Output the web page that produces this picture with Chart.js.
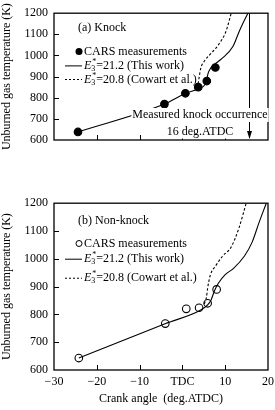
<!DOCTYPE html>
<html>
<head>
<meta charset="utf-8">
<script src="https://cdn.jsdelivr.net/npm/chart.js@4.4.1/dist/chart.umd.min.js"></script>
<style>
  html, body { margin: 0; padding: 0; background: #fff; }
  #wrap { position: relative; width: 275px; height: 410px; }
  .panel { position: absolute; left: 0; width: 275px; }
</style>
</head>
<body>
<div id="wrap">
  <div class="panel" style="top:0;height:190px"><canvas id="knockChart"></canvas></div>
  <div class="panel" style="top:190px;height:220px"><canvas id="nonKnockChart"></canvas></div>
</div>
<script>
// (a) Knock
const knockCarsX = [-24.4, -4.2, 0.7, 3.7, 5.7, 7.7];
const knockCarsY = [638, 770, 821, 850, 879, 943];
const knockThisWorkX = [-24.4, -4.2, 0.8, 3.8, 5.2, 5.6, 6.0, 6.6, 7.5, 9.2, 11.8, 13.3, 15.3];
const knockThisWorkY = [638, 770, 821, 843, 860, 880, 915, 940, 958, 985, 1042, 1115, 1200];
const knockCowartX = [3.5, 3.9, 4.3, 5.2, 6.7, 8.4, 10.2, 11.4];
const knockCowartY = [845, 895, 940, 975, 1010, 1050, 1115, 1200];
const knockAngle = 15.6;

// (b) Non-knock
const nonKnockCarsX = [-24.2, -4.0, 0.9, 3.9, 5.9, 8.0];
const nonKnockCarsY = [643, 767, 820, 824, 840, 890];
const nonKnockThisWorkX = [-24.2, -3.9, 4.3, 5.9, 6.7, 7.5, 8.4, 10.0, 11.9, 14.5, 16.3, 17.9, 19.6];
const nonKnockThisWorkY = [643, 767, 816, 834, 852, 885, 912, 943, 965, 1010, 1060, 1130, 1200];
const nonKnockCowartX = [5.1, 5.6, 5.9, 6.5, 7.8, 9.4, 11.3, 13.2, 14.9];
const nonKnockCowartY = [838, 860, 895, 940, 975, 1010, 1040, 1110, 1200];

// axes
const xTicks = [-30, -20, -10, 0, 10, 20];
const xTickLabels = ['\u221230', '\u221220', '\u221210', 'TDC', '10', '20'];
const yTicks = [600, 700, 800, 900, 1000, 1100, 1200];

const SERIF = '"Liberation Serif", "DejaVu Serif", serif';

function toPoints(xs, ys) {
    return xs.map((x, i) => ({ x: x, y: ys[i] }));
}

// frame and inward tick marks
const framePlugin = {
    id: 'frame',
    afterDatasetsDraw(chart) {
        const ctx = chart.ctx;
        const a = chart.chartArea;
        const xs = chart.scales.x;
        const ys = chart.scales.y;
        ctx.save();
        ctx.strokeStyle = '#000';
        ctx.lineWidth = 1.3;
        ctx.strokeRect(a.left, a.top, a.right - a.left, a.bottom - a.top);
        ctx.lineWidth = 1;
        ctx.beginPath();
        xTicks.slice(1, -1).forEach(v => {
            const px = Math.round(xs.getPixelForValue(v)) + 0.5;
            ctx.moveTo(px, a.bottom);
            ctx.lineTo(px, a.bottom - 5);
        });
        yTicks.slice(1, -1).forEach(v => {
            const py = Math.round(ys.getPixelForValue(v)) + 0.5;
            ctx.moveTo(a.left, py);
            ctx.lineTo(a.left + 5, py);
        });
        ctx.stroke();
        ctx.restore();
    }
};

// x tick labels, bottom panel only (TDC in place of 0)
const xLabelPlugin = {
    id: 'xLabels',
    afterDraw(chart) {
        const ctx = chart.ctx;
        const a = chart.chartArea;
        const xs = chart.scales.x;
        ctx.save();
        ctx.fillStyle = '#000';
        ctx.font = '12px ' + SERIF;
        ctx.textAlign = 'center';
        ctx.textBaseline = 'middle';
        xTicks.forEach((v, i) => {
            ctx.fillText(xTickLabels[i], xs.getPixelForValue(v), a.bottom + 12);
        });
        ctx.restore();
    }
};

function drawE3(ctx, x, y, rest) {
    ctx.font = 'italic 12px ' + SERIF;
    ctx.fillText('E', x, y);
    const w = ctx.measureText('E').width;
    ctx.font = '8px ' + SERIF;
    ctx.fillText('3', x + w, y + 3);
    ctx.fillText('*', x + w + 1, y - 4);
    ctx.font = '12px ' + SERIF;
    ctx.fillText(rest, x + w + 5, y);
}

// panel title and legend, drawn by hand because of the sub/superscripts
function legendPlugin(title, filled, rows) {
    return {
        id: 'panelLegend',
        afterDatasetsDraw(chart) {
            const ctx = chart.ctx;
            const a = chart.chartArea;
            const l = a.left;
            ctx.save();
            ctx.fillStyle = '#000';
            ctx.strokeStyle = '#000';
            ctx.textBaseline = 'middle';
            ctx.textAlign = 'left';
            ctx.font = '12px ' + SERIF;
            ctx.fillText(title, l + 24, a.top + rows[0]);

            ctx.beginPath();
            ctx.arc(l + 25, a.top + rows[1], filled ? 3.5 : 3, 0, Math.PI * 2);
            ctx.lineWidth = 1;
            if (filled) ctx.fill(); else ctx.stroke();
            ctx.fillText('CARS measurements', l + 30, a.top + rows[1]);

            ctx.beginPath();
            ctx.moveTo(l + 11, a.top + rows[2]);
            ctx.lineTo(l + 28, a.top + rows[2]);
            ctx.stroke();
            drawE3(ctx, l + 30, a.top + rows[2], '=21.2 (This work)');

            ctx.setLineDash([2, 2]);
            ctx.beginPath();
            ctx.moveTo(l + 11, a.top + rows[3]);
            ctx.lineTo(l + 28, a.top + rows[3]);
            ctx.stroke();
            ctx.setLineDash([]);
            drawE3(ctx, l + 30, a.top + rows[3], '=20.8 (Cowart et al.)');
            ctx.restore();
        }
    };
}

const knockPlugin = {
    id: 'knockMark',
    afterDatasetsDraw(chart) {
        const ctx = chart.ctx;
        const a = chart.chartArea;
        const px = Math.round(chart.scales.x.getPixelForValue(knockAngle)) + 0.5;
        ctx.save();
        ctx.strokeStyle = '#000';
        ctx.lineWidth = 1;
        ctx.beginPath();
        ctx.moveTo(px, a.top);
        ctx.lineTo(px, a.bottom - 2);
        ctx.stroke();
        ctx.beginPath();
        ctx.moveTo(px - 2.5, a.bottom - 9);
        ctx.lineTo(px + 2.5, a.bottom - 9);
        ctx.lineTo(px, a.bottom - 1);
        ctx.closePath();
        ctx.fillStyle = '#000';
        ctx.fill();

        ctx.font = '12px ' + SERIF;
        ctx.textAlign = 'center';
        ctx.textBaseline = 'middle';
        const cx = a.right - 68;
        const lines = [['Measured knock occurrence', a.bottom - 25], ['16 deg.ATDC', a.bottom - 8.5]];
        lines.forEach(([t, y]) => {
            const w = ctx.measureText(t).width;
            ctx.fillStyle = '#fff';
            ctx.fillRect(cx - w / 2 - 1, y - 7, w + 2, 14);
            ctx.fillStyle = '#000';
            ctx.fillText(t, cx, y);
        });
        ctx.restore();
    }
};

function makeChart(id, opts) {
    const ctx = document.getElementById(id).getContext('2d');
    return new Chart(ctx, {
        type: 'scatter',
        data: {
            datasets: [
                {
                    label: 'E3*=21.2 (This work)',
                    data: toPoints(opts.solidX, opts.solidY),
                    showLine: true,
                    borderColor: '#000',
                    borderWidth: 1.1,
                    pointRadius: 0,
                    cubicInterpolationMode: 'monotone'
                },
                {
                    label: 'E3*=20.8 (Cowart et al.)',
                    data: toPoints(opts.dashX, opts.dashY),
                    showLine: true,
                    borderColor: '#000',
                    borderWidth: 1.1,
                    borderDash: [2.5, 2],
                    pointRadius: 0,
                    cubicInterpolationMode: 'monotone'
                },
                {
                    label: 'CARS measurements',
                    data: toPoints(opts.carsX, opts.carsY),
                    pointRadius: 3.8,
                    pointBackgroundColor: opts.filled ? '#000' : '#fff',
                    pointBorderColor: '#000',
                    pointBorderWidth: 1.1
                }
            ]
        },
        options: {
            responsive: true,
            maintainAspectRatio: false,
            animation: false,
            events: [],
            layout: { padding: opts.padding },
            plugins: { legend: { display: false }, tooltip: { enabled: false } },
            scales: {
                x: {
                    type: 'linear',
                    min: xTicks[0],
                    max: xTicks[xTicks.length - 1],
                    display: opts.showX,
                    afterFit: s => { s.height = 40; },
                    grid: { display: false, drawTicks: false },
                    border: { display: false },
                    ticks: { display: false, stepSize: 10 },
                    title: {
                        display: true,
                        text: 'Crank angle  (deg.ATDC)',
                        color: '#000',
                        font: { family: SERIF, size: 12 },
                        padding: { top: 0, bottom: 4 }
                    }
                },
                y: {
                    min: yTicks[0],
                    max: yTicks[yTicks.length - 1],
                    afterFit: s => { s.width = 54; },
                    grid: { display: false, drawTicks: false },
                    border: { display: false },
                    ticks: {
                        stepSize: 100,
                        padding: 6,
                        color: '#000',
                        autoSkip: false,
                        font: { family: SERIF, size: 12 },
                        callback: v => String(v)
                    },
                    title: {
                        display: true,
                        text: 'Unburned gas temperature (K)',
                        color: '#000',
                        font: { family: SERIF, size: 12 },
                        padding: { top: 0, bottom: 0 }
                    }
                }
            }
        },
        plugins: opts.plugins
    });
}

makeChart('knockChart', {
    solidX: knockThisWorkX, solidY: knockThisWorkY,
    dashX: knockCowartX, dashY: knockCowartY,
    carsX: knockCarsX, carsY: knockCarsY,
    filled: true,
    showX: false,
    padding: { top: 10, right: 7, bottom: 10, left: 0 },
    plugins: [framePlugin, legendPlugin('(a) Knock', true, [14.3, 38.3, 52.7, 66.3]), knockPlugin]
});

makeChart('nonKnockChart', {
    solidX: nonKnockThisWorkX, solidY: nonKnockThisWorkY,
    dashX: nonKnockCowartX, dashY: nonKnockCowartY,
    carsX: nonKnockCarsX, carsY: nonKnockCarsY,
    filled: false,
    showX: true,
    padding: { top: 9, right: 7, bottom: 0, left: 0 },
    plugins: [framePlugin, legendPlugin('(b) Non-knock', false, [17.7, 40.3, 56, 75]), xLabelPlugin]
});
</script>
</body>
</html>
